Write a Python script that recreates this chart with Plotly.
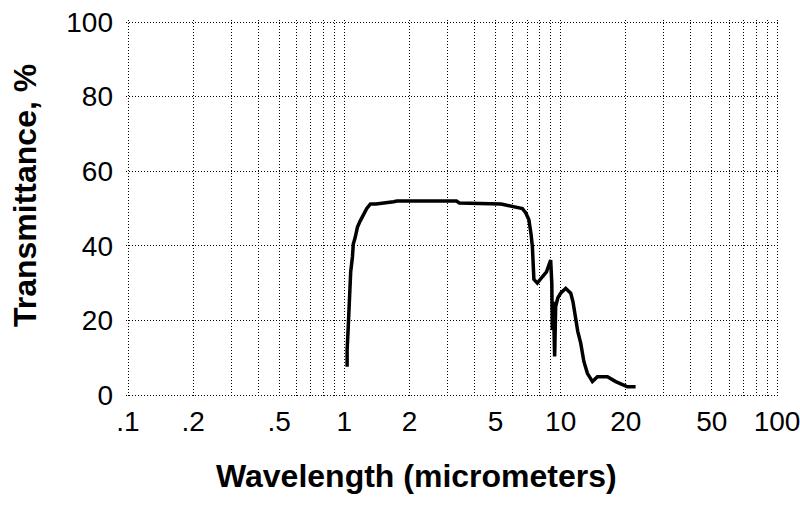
import plotly.graph_objects as go

# Data
wavelength = [1.03, 1.03, 1.04, 1.05, 1.06, 1.07, 1.09, 1.10, 1.12, 1.15, 1.18,
              1.23, 1.27, 1.32, 1.40, 1.69, 1.75, 2.5, 3.3, 3.4, 4.5, 5.3,
              5.5, 6.0, 6.65, 6.9, 7.13, 7.3, 7.40, 7.52, 7.80, 8.23, 8.6,
              8.99, 9.1, 9.15, 9.25, 9.38, 9.42, 9.48, 9.7, 10.0, 10.55,
              11.13, 11.4, 11.73, 12.0, 12.38, 12.8, 13.29, 14.02, 14.79,
              16.45, 17.97, 19.0, 20.36, 22.2]
transmittance = [7.6, 12, 17, 25, 29, 33, 37, 40.5, 42, 45, 46.5,
                 48.7, 50, 51.2, 51.2, 51.8, 52, 52, 52, 51.5, 51.4, 51.2,
                 51, 50.5, 50, 48.8, 47, 43, 39.8, 31, 30, 31.7, 33,
                 36.2, 30, 17.4, 25, 10.3, 18, 23.7, 26, 27.3, 28.6,
                 27.3, 25, 20.1, 17, 13.9, 9, 5.8, 3.6, 4.9,
                 4.9, 3.6, 3, 2.2, 2.2]

x_tickvals = [0.1, 0.2, 0.5, 1, 2, 5, 10, 20, 50, 100]
x_ticktext = [".1", ".2", ".5", "1", "2", "5", "10", "20", "50", "100"]
x_minor = [0.3, 0.4, 0.6, 0.7, 0.8, 0.9, 3, 4, 6, 7, 8, 9, 30, 40, 60, 70, 80, 90]
y_tickvals = [0, 20, 40, 60, 80, 100]

fig = go.Figure()
fig.add_trace(go.Scatter(
    x=wavelength, y=transmittance, mode="lines",
    line=dict(color="black", width=3.5), showlegend=False,
))

tick_font = dict(family="Liberation Sans, Arial, sans-serif", size=28, color="black")
title_font = dict(family="Liberation Sans, Arial, sans-serif", size=32, color="black")
grid_dash = "1px,2px"

L, R, T, B = 126, 21, 20, 122
fig.update_layout(
    width=800, height=519,
    margin=dict(l=L, r=R, t=T, b=B),
    paper_bgcolor="white", plot_bgcolor="white",
    xaxis=dict(
        type="log", range=[-1.00925, 2.00925], automargin=False,
        tickmode="array", tickvals=x_tickvals, ticktext=x_ticktext,
        showgrid=True, gridcolor="black", gridwidth=1, griddash=grid_dash,
        minor=dict(tickmode="array", tickvals=x_minor, showgrid=True,
                   gridcolor="black", gridwidth=1, griddash=grid_dash),
        showline=False, zeroline=False, ticks="",
        tickfont=tick_font, ticklabelstandoff=5, ticklabeloverflow="allow",
    ),
    yaxis=dict(
        range=[-0.536, 100.536], automargin=False,
        tickmode="array", tickvals=y_tickvals,
        showgrid=True, gridcolor="black", gridwidth=1, griddash=grid_dash,
        showline=False, zeroline=False, ticks="",
        tickfont=tick_font, ticklabelstandoff=12,
    ),
    annotations=[
        dict(text="<b>Wavelength (micrometers)</b>", x=416, y=476,
             xanchor="center", yanchor="middle",
             xref="paper", yref="paper", showarrow=False, font=title_font),
        dict(text="<b>Transmittance, %</b>", x=25, y=196,
             xanchor="center", yanchor="middle",
             xref="paper", yref="paper", showarrow=False, textangle=-90,
             font=title_font),
    ],
)

# convert pixel positions of annotations to paper coordinates
pw = 800 - L - R
ph = 519 - T - B
for ann in fig.layout.annotations:
    px, py = ann.x, ann.y
    ann.x = (px - L) / pw
    ann.y = (519 - B - py) / ph

fig.write_html("out.html")
